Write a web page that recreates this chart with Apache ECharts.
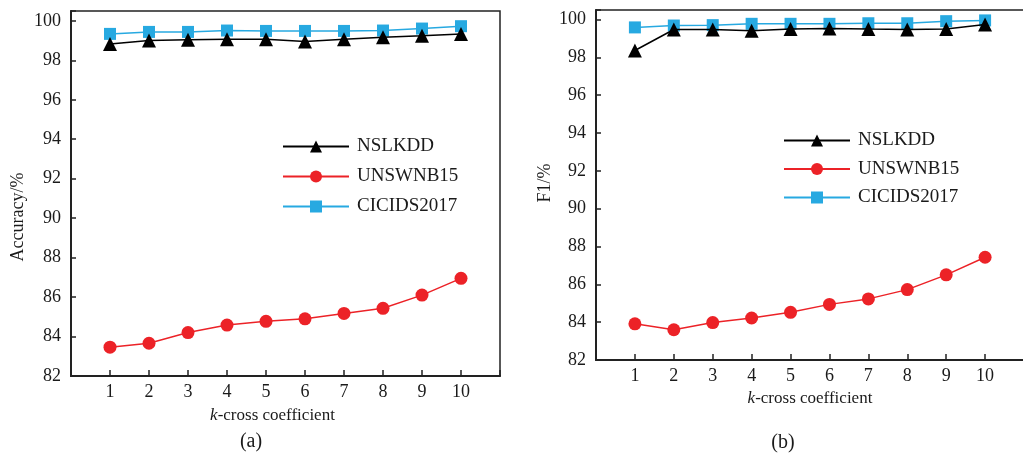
<!DOCTYPE html>
<html>
<head>
<meta charset="utf-8">
<script src="https://cdn.jsdelivr.net/npm/echarts@6/dist/echarts.min.js"></script>
<style>
  html, body { margin: 0; padding: 0; background: #fff; }
  #chart { width: 1023px; height: 453px; }
</style>
</head>
<body>
<div id="chart"></div>
<script>
// k-cross coefficient
const kValues = [1, 2, 3, 4, 5, 6, 7, 8, 9, 10];

// (a) Accuracy/%
const accNSLKDD   = [98.83, 99.0, 99.04, 99.07, 99.07, 98.95, 99.07, 99.17, 99.24, 99.34];
const accUNSWNB15 = [83.46, 83.66, 84.2, 84.58, 84.77, 84.9, 85.17, 85.43, 86.1, 86.95];
const accCICIDS   = [99.34, 99.44, 99.44, 99.51, 99.49, 99.49, 99.49, 99.51, 99.61, 99.73];

// (b) F1/%
const f1NSLKDD   = [98.36, 99.47, 99.47, 99.4, 99.49, 99.52, 99.49, 99.47, 99.5, 99.73];
const f1UNSWNB15 = [83.91, 83.6, 83.98, 84.22, 84.52, 84.94, 85.23, 85.72, 86.5, 87.43];
const f1CICIDS   = [99.58, 99.68, 99.7, 99.77, 99.77, 99.77, 99.8, 99.8, 99.91, 99.95];

const yTicks = [82, 84, 86, 88, 90, 92, 94, 96, 98, 100];
const seriesNames = ["NSLKDD", "UNSWNB15", "CICIDS2017"];

const FONT = "'Liberation Serif', 'Times New Roman', serif";
const TXT = "#1a1a1a";
const colors = { NSLKDD: "#000000", UNSWNB15: "#ec2227", CICIDS2017: "#27a9e1" };
const symbols = { NSLKDD: "triangle", UNSWNB15: "circle", CICIDS2017: "rect" };
const symSize = { NSLKDD: 14, UNSWNB15: 13, CICIDS2017: 12 };
const zOrder = { NSLKDD: 4, UNSWNB15: 3, CICIDS2017: 2 };

const pairs = arr => arr.map((v, i) => [kValues[i], v]);

function xAxisOf(idx, padRight) {
  return {
    type: "value", gridIndex: idx, min: 0, max: 11, interval: 1,
    name: "{k|k}-cross coefficient",
    nameLocation: "middle",
    nameGap: idx === 0 ? 31 : 28,
    nameTextStyle: {
      fontFamily: FONT, fontSize: 17, color: TXT, padding: [0, padRight, 0, 0],
      rich: { k: { fontFamily: FONT, fontSize: 17, fontStyle: "italic", color: TXT } }
    },
    axisLine: { show: true, lineStyle: { color: "#222", width: 2 } },
    axisTick: { show: true, inside: true, length: 6, lineStyle: { color: "#222", width: 1.5 } },
    axisLabel: {
      fontFamily: FONT, fontSize: 18, color: TXT, margin: 7,
      formatter: v => (kValues.includes(v) ? String(v) : "")
    },
    splitLine: { show: false }
  };
}

function yAxisOf(idx) {
  return {
    type: "value", gridIndex: idx, min: yTicks[0], max: 100.5, interval: 2,
    axisLine: { show: true, lineStyle: { color: "#222", width: 2 } },
    axisTick: { show: true, inside: true, length: 5, lineStyle: { color: "#222", width: 1.5 } },
    axisLabel: {
      fontFamily: FONT, fontSize: 18, color: TXT, margin: 10,
      formatter: v => (yTicks.includes(v) ? String(v) : "")
    },
    splitLine: { show: false }
  };
}

function lineSeries(name, data, idx) {
  return {
    name: name, type: "line", xAxisIndex: idx, yAxisIndex: idx,
    data: pairs(data),
    symbol: symbols[name], symbolSize: symSize[name], z: zOrder[name],
    lineStyle: { color: colors[name], width: 1.5 },
    itemStyle: { color: colors[name] },
    emphasis: { disabled: true },
    animation: false
  };
}

function legendOf(left, top, gap) {
  return {
    data: seriesNames.map(n => ({ name: n })),
    orient: "vertical", left: left, top: top, padding: 0,
    itemWidth: 66, itemHeight: 15, itemGap: gap,
    textStyle: { fontFamily: FONT, fontSize: 19, color: TXT, padding: [0, 0, 0, 3] },
    selectedMode: false
  };
}

const chart = echarts.init(document.getElementById("chart"));
chart.setOption({
  backgroundColor: "#fff",
  animation: false,
  grid: [
    { left: 71, top: 11, width: 429, height: 365, show: true, borderColor: "#222", borderWidth: 1.5,
      backgroundColor: "transparent", outerBoundsMode: "none", containLabel: false },
    { left: 596, top: 10, width: 428, height: 350, show: true, borderColor: "#222", borderWidth: 1.5,
      backgroundColor: "transparent", outerBoundsMode: "none", containLabel: false }
  ],
  xAxis: [xAxisOf(0, 26), xAxisOf(1, 0)],
  yAxis: [yAxisOf(0), yAxisOf(1)],
  legend: [legendOf(282, 137, 11), legendOf(783, 131, 9.5)],
  series: [
    lineSeries("NSLKDD", accNSLKDD, 0),
    lineSeries("UNSWNB15", accUNSWNB15, 0),
    lineSeries("CICIDS2017", accCICIDS, 0),
    lineSeries("NSLKDD", f1NSLKDD, 1),
    lineSeries("UNSWNB15", f1UNSWNB15, 1),
    lineSeries("CICIDS2017", f1CICIDS, 1)
  ],
  graphic: [
    { type: "text", x: 18, y: 217, rotation: Math.PI / 2,
      style: { text: "Accuracy/%", font: "18px " + FONT, fill: TXT, textAlign: "center", textVerticalAlign: "middle" } },
    { type: "text", x: 545, y: 183, rotation: Math.PI / 2,
      style: { text: "F1/%", font: "18px " + FONT, fill: TXT, textAlign: "center", textVerticalAlign: "middle" } },
    { type: "text", x: 251, y: 442,
      style: { text: "(a)", font: "20px " + FONT, fill: TXT, textAlign: "center", textVerticalAlign: "middle" } },
    { type: "text", x: 783, y: 443,
      style: { text: "(b)", font: "20px " + FONT, fill: TXT, textAlign: "center", textVerticalAlign: "middle" } }
  ]
});
</script>
</body>
</html>
